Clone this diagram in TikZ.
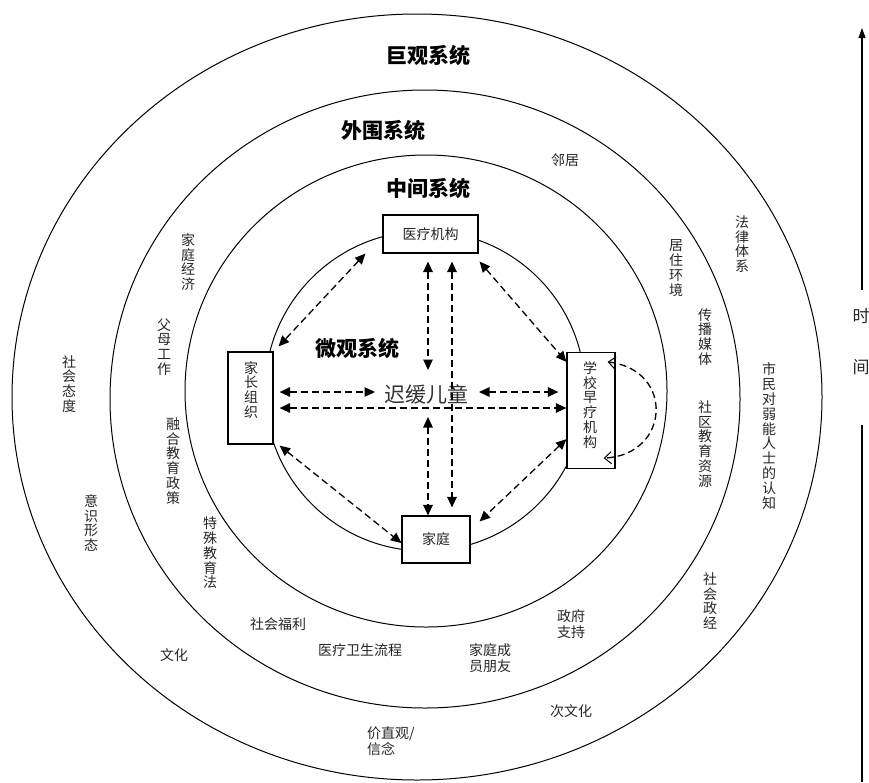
\documentclass[tikz,border=0pt]{standalone}
\usepackage{fontspec}
\newfontfamily\cjk{Noto Sans CJK SC}
\usetikzlibrary{arrows.meta,calc}
\begin{document}
\begin{tikzpicture}[x=1pt,y=-1pt,
  ring/.style={line width=1pt},
  box/.style={draw, line width=1.2pt, fill=white, inner sep=0pt, rectangle,
    font=\cjk\fontsize{14}{14.8}\selectfont, align=center, text=black!85},
  lbl/.style={font=\cjk\fontsize{14}{14.8}\selectfont, align=center, inner sep=0pt, text=black!85},
  ttl/.style={font=\cjk\bfseries\fontsize{21}{21}\selectfont, inner sep=0pt},
  tlbl/.style={font=\cjk\fontsize{17}{17}\selectfont, inner sep=0pt, text=black!85},
  link/.style={dash pattern=on 7pt off 4pt, line width=1.3pt,
    {Triangle[length=10.5pt,width=9.5pt]}-{Triangle[length=10.5pt,width=9.5pt]}},
  loop/.style={dash pattern=on 7pt off 4pt, line width=1.3pt,
    {Straight Barb[length=7pt,width=12pt,line width=1pt]}-{Straight Barb[length=7pt,width=12pt,line width=1pt]}},
]
\useasboundingbox (0,0) rectangle (869,782);

% rings
\draw[ring] (417,397) ellipse [x radius=405, y radius=383];
\draw[ring] (425,399) ellipse [x radius=315, y radius=309];
\draw[ring] (426,391) ellipse [x radius=241, y radius=236];
\draw[ring] (425,391) ellipse [x radius=160, y radius=160];

% titles
\node[ttl] (macro) at (428,55) {巨观系统};
\node[ttl] (exo) at (383,130) {外围系统};
\node[ttl] (meso) at (428,188) {中间系统};
\node[ttl] (micro) at (357,348) {微观系统};

% boxes
\node[box, minimum width=95, minimum height=38] (med) at (430.5,234) {医疗机构};
\node[box, minimum width=45, minimum height=92] (par) at (250.5,398) {};
\node[lbl] (part) at (251,390) {家\\长\\组\\织};
\node[box, minimum width=48, minimum height=116] (sch) at (591,410.5) {};
\node[lbl] (scht) at (590,405) {学\\校\\早\\疗\\机\\构};
\node[box, minimum width=68, minimum height=47] (fam) at (436,539.5) {家庭};
\node[font=\cjk\fontsize{21}{21}\selectfont, inner sep=0pt, text=black!80] (child) at (426,394) {迟缓儿童};

% free ends near the child
\coordinate (c1) at (428,370);
\coordinate (c2) at (375,392);
\coordinate (c3) at (479,392);
\coordinate (c4) at (428,417);

% connectors
\draw[link] ($(med.south west)+(-17,0)$) -- ($(par.north east)+(5,-5)$);
\draw[link] ($(med.south)+(-2.5,8)$) -- (c1);
\draw[link] ($(med.south)+(21.5,8)$) -- ($(fam.north)+(16,-8)$);
\draw[link] ($(med.south east)+(1,8)$) -- ($(sch.north west)+(0,10)$);
\draw[link] ($(par.east)+(6,-6)$) -- (c2);
\draw[link] (c3) -- ($(sch.west)+(-8,-18.5)$);
\draw[link] ($(par.east)+(6,10)$) -- ($(sch.west)+(0,-2.5)$);
\draw[link] (c4) -- ($(fam.north)+(-8,0)$);
\draw[link] ($(par.south east)+(6,1)$) -- ($(fam.west)+(0,3.5)$);
\draw[link] ($(sch.south west)+(0,-30)$) -- ($(fam.north east)+(9,6)$);
\draw[loop] ($(sch.north east)+(-8,10)$) .. controls (675,370) and (670,455) .. ($(sch.south east)+(-12,-11)$);

% labels
\node[lbl] (n1) at (565,160) {邻居};
\node[lbl] (n2) at (188,262) {家\\庭\\经\\济};
\node[lbl] (n3) at (164,347) {父\\母\\工\\作};
\node[lbl] (n4) at (69,384) {社\\会\\态\\度};
\node[lbl] (n5) at (173,461) {融\\合\\教\\育\\政\\策};
\node[lbl] (n6) at (91,523) {意\\识\\形\\态};
\node[lbl] (n7) at (210,553) {特\\殊\\教\\育\\法};
\node[lbl] (n8) at (278,624) {社会福利};
\node[lbl] (n9) at (360,650) {医疗卫生流程};
\node[lbl, align=left] (n10) at (490,658) {家庭成\\[1pt]员朋友};
\node[lbl] (n11) at (571,624) {政府\\[1pt]支持};
\node[lbl] (n12) at (174,655) {文化};
\node[lbl] (n13) at (571,711) {次文化};
\node[lbl, align=left, anchor=west] (n14) at (367,741) {价直观/\\[1pt]信念};
\node[lbl] (n15) at (710,601) {社\\会\\政\\经};
\node[lbl] (n16) at (769,436) {市\\民\\对\\弱\\能\\人\\士\\的\\认\\知};
\node[lbl] (n17) at (705,444) {社\\区\\教\\育\\资\\源};
\node[lbl] (n18) at (705,337) {传\\播\\媒\\体};
\node[lbl] (n19) at (676,268) {居\\住\\环\\境};
\node[lbl] (n20) at (742,244) {法\\律\\体\\系};

% time axis
\node[tlbl] (t1) at (861,316) {时};
\node[tlbl] (t2) at (861,367) {间};
\coordinate (ttop) at (862,28);
\coordinate (tbot) at (862,782);
\draw[line width=1.2pt, -{Triangle[length=10pt,width=7pt]}] ($(t1)+(1,-26)$) -- (ttop);
\draw[line width=1.2pt] ($(t2)+(1,58)$) -- (tbot);
\end{tikzpicture}
\end{document}
